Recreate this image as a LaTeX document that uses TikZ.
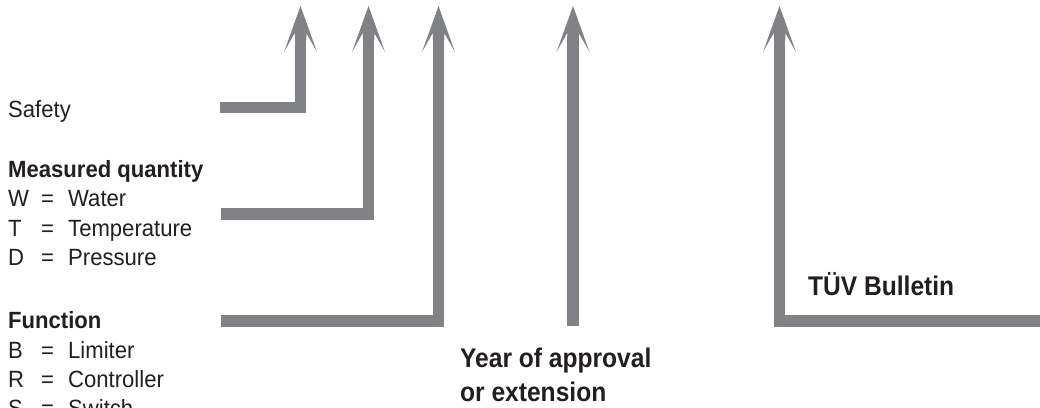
\documentclass[tikz,border=0pt]{standalone}
\usepackage{fontspec}
\usetikzlibrary{calc}
\setmainfont{Liberation Sans}
\newfontfamily\leftfont{Liberation Sans}[FakeStretch=0.94]
\newfontfamily\rightfont{Liberation Sans}[FakeStretch=0.91]
\definecolor{arrowgray}{HTML}{808285}
\definecolor{ink}{HTML}{231F20}
\begin{document}
\begin{tikzpicture}[x=1pt,y=-1pt,
  shaft/.style={draw=arrowgray,line width=11.5pt,line cap=butt,line join=miter},
  lt/.style={anchor=base west,inner sep=0pt,text=ink,font=\leftfont\fontsize{23.5}{29}\selectfont},
  lb/.style={lt,font=\leftfont\bfseries\fontsize{23.5}{29}\selectfont},
  eq/.style={anchor=base,inner sep=0pt,text=ink,font=\leftfont\fontsize{23.5}{29}\selectfont},
  rb/.style={anchor=base west,inner sep=0pt,text=ink,font=\rightfont\bfseries\fontsize{27}{34}\selectfont}]
\useasboundingbox (0,0) rectangle (1040,407);
\newcommand{\arrhead}[1]{\fill[arrowgray] (#1) -- ($(#1)+(16.5,46)$) -- ($(#1)+(5.75,27)$) -- ($(#1)+(5.75,34)$) -- ($(#1)+(-5.75,34)$) -- ($(#1)+(-5.75,27)$) -- ($(#1)+(-16.5,46)$) -- cycle;}
% texts
\node[lt] (safety) at (8,117) {Safety};
\node[lb] (mq) at (8,177) {Measured quantity};
\node[lt] (wl) at (8,206) {W};  \node[eq] (we) at (47.5,206) {=}; \node[lt] (wn) at (68,206) {Water};
\node[lt] (tl) at (8,236) {T};  \node[eq] (te) at (47.5,236) {=}; \node[lt] (tn) at (68,236) {Temperature};
\node[lt] (dl) at (8,265) {D};  \node[eq] (de) at (47.5,265) {=}; \node[lt] (dn) at (68,265) {Pressure};
\node[lb] (fn) at (8,328) {Function};
\node[lt] (bl) at (8,358) {B};  \node[eq] (be) at (47.5,358) {=}; \node[lt] (bn) at (68,358) {Limiter};
\node[lt] (rl) at (8,387) {R};  \node[eq] (re) at (47.5,387) {=}; \node[lt] (rn) at (68,387) {Controller};
\node[lt] (sl) at (8,416) {S};  \node[eq] (se) at (47.5,416) {=}; \node[lt] (sn) at (68,416) {Switch};
\node[rb] (year1) at (460,367) {Year of approval};
\node[rb] (year2) at (460,401) {or extension};
\node[rb] (tuev) at (808,295) {TÜV Bulletin};
% coordinates
\coordinate (a0) at (220,107.5); \coordinate (a1) at (300.5,107.5); \coordinate (aS) at (300.5,36); \coordinate (aT) at (300.5,6);
\coordinate (b0) at (221,214);   \coordinate (b1) at (368.5,214);   \coordinate (bS) at (368.5,36); \coordinate (bT) at (368.5,6);
\coordinate (c0) at (221,321);   \coordinate (c1) at (438.5,321);   \coordinate (cS) at (438.5,36); \coordinate (cT) at (438.5,6);
\coordinate (d0) at (573,326);   \coordinate (dS) at (573,36);      \coordinate (dT) at (573,6);
\coordinate (e0) at (1040,321);  \coordinate (e1) at (779.5,321);   \coordinate (eS) at (779.5,36); \coordinate (eT) at (779.5,6);
% shafts
\draw[shaft] (a0) -- (a1) -- (aS);
\draw[shaft] (b0) -- (b1) -- (bS);
\draw[shaft] (c0) -- (c1) -- (cS);
\draw[shaft] (d0) -- (dS);
\draw[shaft] (e0) -- (e1) -- (eS);
% heads
\arrhead{aT}\arrhead{bT}\arrhead{cT}\arrhead{dT}\arrhead{eT}
\end{tikzpicture}
\end{document}
